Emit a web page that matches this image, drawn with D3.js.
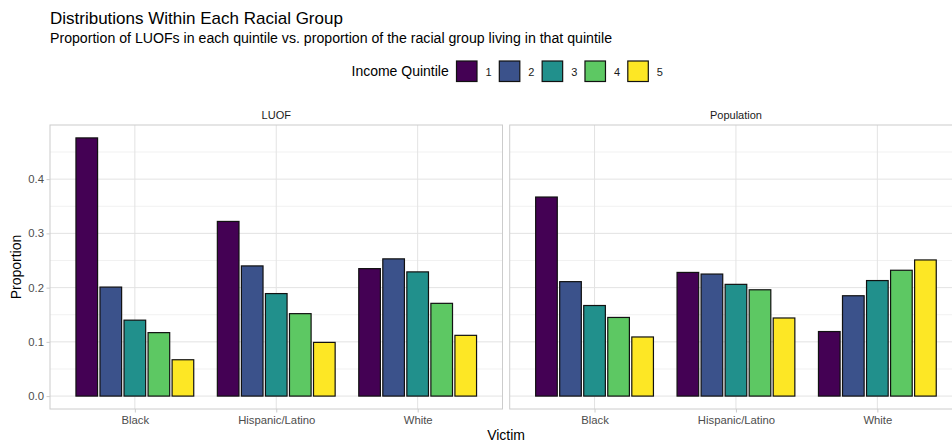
<!DOCTYPE html>
<html>
<head>
<meta charset="utf-8">
<script src="https://cdn.jsdelivr.net/npm/d3@7"></script>
<style>
  html, body { margin: 0; padding: 0; background: #fff; overflow: hidden; }
  svg { display: block; font-family: "Liberation Sans", Arial, Helvetica, sans-serif; }
</style>
</head>
<body>
<svg id="chart" width="952" height="443"></svg>
<script>
// ---- Data ----
const categories = ["Black", "Hispanic/Latino", "White"];
const panels = ["LUOF", "Population"];
const quintiles = ["1", "2", "3", "4", "5"];
const luofValues = [
  [0.476, 0.201, 0.140, 0.117, 0.067],
  [0.322, 0.240, 0.189, 0.152, 0.099],
  [0.235, 0.253, 0.229, 0.171, 0.112]
];
const populationValues = [
  [0.367, 0.211, 0.167, 0.145, 0.109],
  [0.228, 0.225, 0.206, 0.196, 0.144],
  [0.119, 0.185, 0.213, 0.232, 0.251]
];
const yTicks = [0.0, 0.1, 0.2, 0.3, 0.4];
const yMinorTicks = [0.05, 0.15, 0.25, 0.35, 0.45];
const quintileColors = ["#440154", "#3B528B", "#21908C", "#5DC863", "#FDE725"];
const titleText = "Distributions Within Each Racial Group";
const subtitleText = "Proportion of LUOFs in each quintile vs. proportion of the racial group living in that quintile";
const legendTitle = "Income Quintile";
const xAxisTitle = "Victim";
const yAxisTitle = "Proportion";

const panelValues = [luofValues, populationValues];

// ---- Layout ----
const svg = d3.select("#chart");
const panelTop = 125, panelBottom = 409;
const panelWidth = 452.5;
const panelLefts = [50, 509.7];

const maxVal = d3.max(panelValues.flat(2));
const pad = maxVal * 0.05;
const y = d3.scaleLinear().domain([-pad, maxVal + pad]).range([panelBottom, panelTop]);

const color = d3.scaleOrdinal().domain(quintiles).range(quintileColors);

// Title & subtitle
svg.append("text").attr("x", 50).attr("y", 24).attr("font-size", 17).attr("fill", "#000").text(titleText);
svg.append("text").attr("x", 50).attr("y", 42.5).attr("font-size", 14.15).attr("fill", "#000").text(subtitleText);

// Legend
const lg = svg.append("g");
lg.append("text").attr("x", 351.5).attr("y", 76).attr("font-size", 14).attr("fill", "#000").text(legendTitle);
const keyX = d3.scalePoint().domain(quintiles).range([456, 627.3]);
quintiles.forEach(q => {
  lg.append("rect").attr("x", keyX(q) + 0.5).attr("y", 61).attr("width", 20.5).attr("height", 20.5)
    .attr("fill", color(q)).attr("stroke", "#111").attr("stroke-width", 1.2);
  lg.append("text").attr("x", keyX(q) + 29.5).attr("y", 75.5).attr("font-size", 11).attr("fill", "#1a1a1a").text(q);
});

// Panels
panels.forEach((p, pi) => {
  const left = panelLefts[pi];
  const x = d3.scalePoint().domain(categories).range([left, left + panelWidth]).padding(0.6);
  const slot = x.step() * 0.85;
  const xq = d3.scaleBand().domain(quintiles).range([-slot / 2, slot / 2]).paddingInner(0.1).paddingOuter(0.05);
  const g = svg.append("g");

  const clipId = "clip" + pi;
  svg.append("clipPath").attr("id", clipId).append("rect")
    .attr("x", left).attr("y", panelTop).attr("width", panelWidth).attr("height", panelBottom - panelTop);

  const grid = g.append("g").attr("clip-path", `url(#${clipId})`);
  yMinorTicks.forEach(t => {
    grid.append("line").attr("x1", left).attr("x2", left + panelWidth).attr("y1", y(t)).attr("y2", y(t))
      .attr("stroke", "#f1f1f1").attr("stroke-width", 1);
  });
  yTicks.forEach(t => {
    grid.append("line").attr("x1", left).attr("x2", left + panelWidth).attr("y1", y(t)).attr("y2", y(t))
      .attr("stroke", "#e3e3e3").attr("stroke-width", 1);
  });
  categories.forEach(c => {
    grid.append("line").attr("x1", x(c)).attr("x2", x(c)).attr("y1", panelTop).attr("y2", panelBottom)
      .attr("stroke", "#e3e3e3").attr("stroke-width", 1);
  });

  // bars
  const data = [];
  categories.forEach((c, ci) => quintiles.forEach((q, qi) => data.push({ c, q, v: panelValues[pi][ci][qi] })));
  g.append("g").selectAll("rect").data(data).join("rect")
    .attr("x", d => x(d.c) + xq(d.q))
    .attr("width", xq.bandwidth())
    .attr("y", d => y(d.v))
    .attr("height", d => y(0) - y(d.v))
    .attr("fill", d => color(d.q))
    .attr("stroke", "#111")
    .attr("stroke-width", 1.2);

  // border
  g.append("rect").attr("x", left).attr("y", panelTop).attr("width", panelWidth).attr("height", panelBottom - panelTop)
    .attr("fill", "none").attr("stroke", "#cccccc").attr("stroke-width", 1);

  // strip label
  svg.append("text").attr("x", left + panelWidth / 2).attr("y", 118.5).attr("text-anchor", "middle")
    .attr("font-size", 11).attr("fill", "#1a1a1a").text(p);

  // x axis
  const xAxis = g.append("g").attr("transform", `translate(0,${panelBottom})`)
    .call(d3.axisBottom(x).tickSize(3.5).tickPadding(3));
  xAxis.select(".domain").remove();
  xAxis.selectAll(".tick line").attr("stroke", "#cccccc");
  xAxis.selectAll(".tick text").attr("font-size", 11.3).attr("fill", "#4d4d4d")
    .attr("font-family", "Liberation Sans, Arial, sans-serif");

  if (pi === 0) {
    const yAxis = g.append("g").attr("transform", `translate(${left},0)`)
      .call(d3.axisLeft(y).tickValues(yTicks).tickFormat(d3.format(".1f")).tickSize(3.5).tickPadding(2.5));
    yAxis.select(".domain").remove();
    yAxis.selectAll(".tick line").attr("stroke", "#cccccc");
    yAxis.selectAll(".tick text").attr("font-size", 11.3).attr("fill", "#4d4d4d")
      .attr("font-family", "Liberation Sans, Arial, sans-serif");
  }
});

// Axis titles
const plotCenter = (panelLefts[0] + panelLefts[1] + panelWidth) / 2;
svg.append("text").attr("x", plotCenter).attr("y", 440).attr("text-anchor", "middle")
  .attr("font-size", 14).attr("fill", "#000").text(xAxisTitle);
svg.append("text").attr("transform", `translate(21,${(panelTop + panelBottom) / 2}) rotate(-90)`)
  .attr("text-anchor", "middle").attr("font-size", 14).attr("fill", "#000").text(yAxisTitle);
</script>
</body>
</html>
